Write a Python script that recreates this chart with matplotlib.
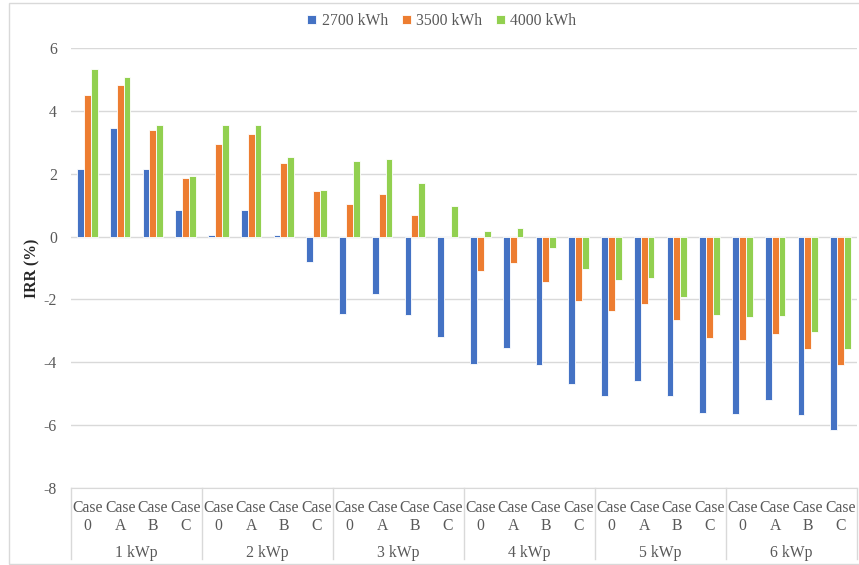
import matplotlib.pyplot as plt
import matplotlib.transforms as mtransforms
from matplotlib.patches import Rectangle
import numpy as np

# Data
systems = ["1 kWp", "2 kWp", "3 kWp", "4 kWp", "5 kWp", "6 kWp"]
cases = ["0", "A", "B", "C"]
series_names = ["2700 kWh", "3500 kWh", "4000 kWh"]

irr_2700 = [2.16, 3.44, 2.16, 0.83,
            0.05, 0.83, 0.05, -0.81,
            -2.45, -1.82, -2.50, -3.20,
            -4.06, -3.53, -4.10, -4.70,
            -5.07, -4.58, -5.07, -5.60,
            -5.63, -5.19, -5.67, -6.15]
irr_3500 = [4.52, 4.81, 3.40, 1.87,
            2.95, 3.25, 2.35, 1.46,
            1.05, 1.34, 0.68, -0.02,
            -1.08, -0.85, -1.44, -2.04,
            -2.38, -2.16, -2.67, -3.24,
            -3.28, -3.09, -3.58, -4.10]
irr_4000 = [5.33, 5.08, 3.55, 1.94,
            3.55, 3.55, 2.54, 1.49,
            2.42, 2.47, 1.71, 0.97,
            0.19, 0.26, -0.37, -1.04,
            -1.38, -1.33, -1.93, -2.50,
            -2.57, -2.53, -3.05, -3.57]

colors = ["#4472C4", "#ED7D31", "#92D050"]
text_gray = "#595959"
grid_gray = "#D9D9D9"
fs = 11.3

plt.rcParams["font.family"] = ["Liberation Serif", "DejaVu Serif"]
plt.rcParams["font.size"] = fs
plt.rcParams["axes.unicode_minus"] = False

fig = plt.figure(figsize=(8.59, 5.65), dpi=100)
ax = fig.add_axes([71 / 859, 1 - 488 / 565, 786 / 859, 440 / 565])

# outer chart border (Excel chart area)
fig.patches.append(Rectangle((9 / 859, 1 - 564 / 565), 2.0, 561 / 565,
                             transform=fig.transFigure, fill=False,
                             edgecolor=grid_gray, linewidth=1.0))

x = np.arange(len(systems) * len(cases))
width = 0.21
for i, (vals, name) in enumerate(zip([irr_2700, irr_3500, irr_4000], series_names)):
    ax.bar(x + (i - 1) * width, vals, width, color=colors[i], edgecolor="white",
           linewidth=0.6, label=name, zorder=3)

ax.set_xlim(-0.5, len(x) - 0.5)
ax.set_ylim(-8, 6)
ax.set_yticks(range(-8, 7, 2))
ax.yaxis.grid(True, color=grid_gray, linewidth=1.0, zorder=0)
for s in ["top", "right", "left"]:
    ax.spines[s].set_visible(False)
ax.spines["bottom"].set_color(grid_gray)
ax.tick_params(axis="y", length=0, pad=10, colors=text_gray, labelsize=fs)
ax.set_ylabel("IRR (%)", fontweight="bold", color="#262626", fontsize=fs)
ax.yaxis.set_label_coords(-31 / 786, 0.5)

# two-level category axis
ax.set_xticks(x)
ax.set_xticklabels(["Case\n" + c for _ in systems for c in cases], linespacing=1.15)
ax.tick_params(axis="x", length=0, pad=9, colors=text_gray, labelsize=fs)

trans = mtransforms.blended_transform_factory(ax.transData, ax.transAxes)
for g in range(len(systems) + 1):
    xb = g * len(cases) - 0.5
    ax.plot([xb, xb], [0, -71 / 440], transform=trans, color=grid_gray,
            linewidth=1.0, clip_on=False)
for g, name in enumerate(systems):
    xc = g * len(cases) + (len(cases) - 1) / 2
    ax.text(xc, -65 / 440, name, transform=trans, ha="center", va="center",
            color=text_gray, fontsize=fs)

leg = ax.legend(loc="center", bbox_to_anchor=(0.472, 1 + 27 / 440), ncol=3,
                frameon=False, handlelength=0.55, handleheight=0.55,
                handletextpad=0.35, columnspacing=0.9, fontsize=fs)
for t in leg.get_texts():
    t.set_color(text_gray)

fig.savefig("out.png", dpi=100)
